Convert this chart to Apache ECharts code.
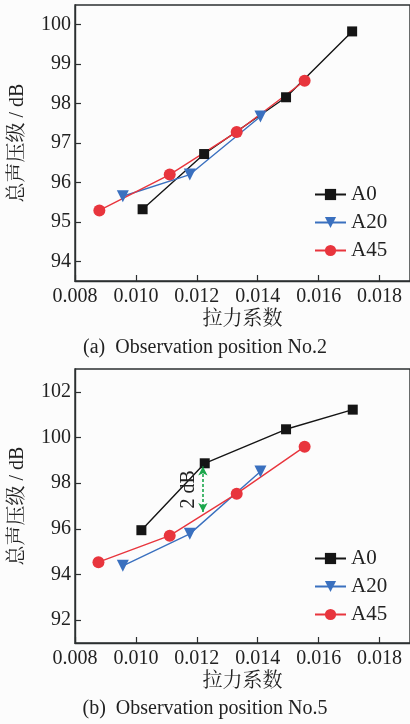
<!DOCTYPE html>
<html>
<head>
<meta charset="utf-8">
<script src="https://cdn.jsdelivr.net/npm/echarts@6/dist/echarts.min.js"></script>
<style>
html,body{margin:0;padding:0;background:#fcfcfc;}
#c{width:410px;height:724px;}
</style>
</head>
<body>
<div id="c"></div>
<script>
// ---- data ----
const seriesNames = ['A0', 'A20', 'A45'];
// Panel (a): observation position No.2
const a_A0_x = [0.01022, 0.01224, 0.01493, 0.0171];
const a_A0_y = [95.32, 96.72, 98.16, 99.83];
const a_A20_x = [0.00957, 0.01177, 0.01409];
const a_A20_y = [95.65, 96.2, 97.67];
const a_A45_x = [0.0088, 0.01111, 0.01331, 0.01554];
const a_A45_y = [95.29, 96.2, 97.28, 98.58];
// Panel (b): observation position No.5
const b_A0_x = [0.01018, 0.01226, 0.01493, 0.01712];
const b_A0_y = [95.94, 98.87, 100.36, 101.22];
const b_A20_x = [0.00957, 0.01177, 0.01409];
const b_A20_y = [94.38, 95.78, 98.51];
const b_A45_x = [0.00877, 0.01111, 0.01331, 0.01554];
const b_A45_y = [94.54, 95.70, 97.54, 99.6];
// annotation in panel (b): from lower end to upper end
const annotX = 0.0122;
const annotY = [96.74, 98.73];
const annotText = '2 dB';
// ticks
const xTicks = [0.008, 0.010, 0.012, 0.014, 0.016, 0.018];
const aYTicks = [94, 95, 96, 97, 98, 99, 100];
const bYTicks = [92, 94, 96, 98, 100, 102];
const xName = '拉力系数';
const yName = '总声压级 / dB';
const captions = ['(a)  Observation position No.2', '(b)  Observation position No.5'];

const zip = (xs, ys) => xs.map((x, i) => [x, ys[i]]);
const FONT = "'Liberation Serif', 'Noto Serif CJK SC', 'Noto Sans CJK SC', serif";
const AX = '#2b2f30';
const colors = {A0: '#151515', A20: '#3a70bf', A45: '#e8353d'};
const symbols = {A0: 'rect', A20: 'triangle', A45: 'circle'};
const symSize = {A0: 10, A20: 12, A45: 12};
const symRot = {A0: 0, A20: 180, A45: 0};

function xAxis(gi) {
  return {
    type: 'value', gridIndex: gi, min: 0.008, max: 0.019,
    name: xName, nameLocation: 'middle', nameGap: 29,
    nameTextStyle: {fontFamily: FONT, fontSize: 20, color: '#222'},
    axisLine: {show: true, lineStyle: {color: AX, width: 1.4}},
    axisTick: {show: true, inside: true, length: 6, customValues: xTicks, lineStyle: {color: AX, width: 1.2}},
    axisLabel: {customValues: xTicks, formatter: v => v.toFixed(3), fontFamily: FONT, fontSize: 20, color: '#222', margin: 6},
    splitLine: {show: false}
  };
}
function yAxis(gi, min, max, ticks) {
  return {
    type: 'value', gridIndex: gi, min: min, max: max,
    name: yName, nameLocation: 'middle', nameGap: 47, nameRotate: 90,
    nameTextStyle: {fontFamily: FONT, fontSize: 20, color: '#222'},
    axisLine: {show: true, lineStyle: {color: AX, width: 1.4}},
    axisTick: {show: true, inside: true, length: 6, customValues: ticks, lineStyle: {color: AX, width: 1.2}},
    axisLabel: {customValues: ticks, fontFamily: FONT, fontSize: 20, color: '#222', margin: 4},
    splitLine: {show: false}
  };
}
function ser(name, gi, data, extra) {
  return Object.assign({
    name: name, type: 'line', xAxisIndex: gi, yAxisIndex: gi, data: data,
    symbol: symbols[name], symbolSize: symSize[name], symbolRotate: symRot[name],
    showSymbol: true, animation: false,
    lineStyle: {color: colors[name], width: 1.4},
    itemStyle: {color: colors[name], borderWidth: 0}
  }, extra || {});
}

const chart = echarts.init(document.getElementById('c'), null, {renderer: 'canvas'});
chart.setOption({
  backgroundColor: '#fcfcfc',
  animation: false,
  grid: [
    {left: 71, top: 5, right: -2, height: 276, show: true, borderColor: AX, borderWidth: 1.4, backgroundColor: 'transparent'},
    {left: 71, top: 369, right: -2, height: 274, show: true, borderColor: AX, borderWidth: 1.4, backgroundColor: 'transparent'}
  ],
  xAxis: [xAxis(0), xAxis(1)],
  yAxis: [yAxis(0, 93.5, 100.5, aYTicks), yAxis(1, 91, 103, bYTicks)],
  legend: [
    {orient: 'vertical', left: 309, top: 179, itemWidth: 31, itemHeight: 14, itemGap: 7,
     data: seriesNames, textStyle: {fontFamily: FONT, fontSize: 21, color: '#222', padding: [0, 0, 0, 0]}},
    {orient: 'vertical', left: 309, top: 543, itemWidth: 31, itemHeight: 14, itemGap: 7,
     data: seriesNames, textStyle: {fontFamily: FONT, fontSize: 21, color: '#222', padding: [0, 0, 0, 0]}}
  ],
  graphic: [
    {type: 'text', left: 'center', top: 338, style: {text: captions[0], font: "20px " + FONT, fill: '#222'}},
    {type: 'text', left: 'center', top: 699, style: {text: captions[1], font: "20px " + FONT, fill: '#222'}}
  ],
  series: [
    ser('A0', 0, zip(a_A0_x, a_A0_y)),
    ser('A20', 0, zip(a_A20_x, a_A20_y)),
    ser('A45', 0, zip(a_A45_x, a_A45_y)),
    ser('A0', 1, zip(b_A0_x, b_A0_y), {
      markLine: {
        silent: true, animation: false,
        symbol: ['arrow', 'arrow'], symbolSize: [7, 9],
        lineStyle: {color: '#1ba64b', type: [3, 2], width: 1.6},
        label: {show: true, formatter: annotText, position: 'insideMiddleTop', distance: 4,
                fontFamily: FONT, fontSize: 20, color: '#222'},
        data: [[{coord: [annotX, annotY[0]]}, {coord: [annotX, annotY[1]]}]]
      }
    }),
    ser('A20', 1, zip(b_A20_x, b_A20_y)),
    ser('A45', 1, zip(b_A45_x, b_A45_y))
  ]
});
</script>
</body>
</html>
